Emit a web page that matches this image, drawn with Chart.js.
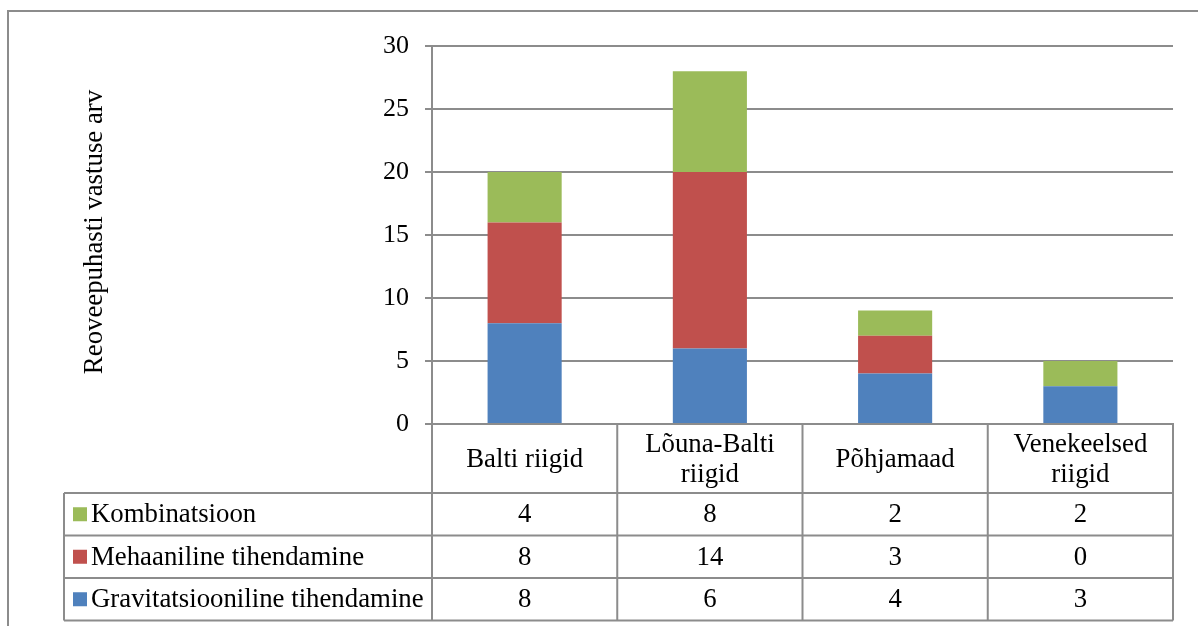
<!DOCTYPE html>
<html>
<head>
<meta charset="utf-8">
<script src="https://cdn.jsdelivr.net/npm/chart.js@4.4.1/dist/chart.umd.min.js"></script>
<style>
  html, body { margin: 0; padding: 0; background: #fff; }
  #wrap { width: 1198px; height: 626px; position: relative; }
</style>
</head>
<body>
<div id="wrap"><canvas id="c" width="1198" height="626"></canvas></div>
<script>
// Regions and responses per wastewater treatment method
const categories = [["Balti riigid"], ["Lõuna-Balti", "riigid"], ["Põhjamaad"], ["Venekeelsed", "riigid"]];
const gravitatsiooniline = [8, 6, 4, 3];
const mehaaniline = [8, 14, 3, 0];
const kombinatsioon = [4, 8, 2, 2];
const yTicks = [0, 5, 10, 15, 20, 25, 30];

const seriesNames = ["Gravitatsiooniline tihendamine", "Mehaaniline tihendamine", "Kombinatsioon"];
const seriesColors = ["#4F81BD", "#C0504D", "#9BBB59"];
const seriesData = [gravitatsiooniline, mehaaniline, kombinatsioon];

const FONT = "'Liberation Serif', 'Times New Roman', serif";
const FONT_SIZE = 26.8;
const TICK_SIZE = 26;
const GRID = "#8C8C8C";

// Draws the frame, axis title and the data table under the plot
const tablePlugin = {
  id: 'dataTable',
  afterDraw(chart) {
    const ctx = chart.ctx;
    const x = chart.scales.x;
    const area = chart.chartArea;
    const n = categories.length;
    const colW = (area.right - area.left) / n;
    const headerBottom = area.bottom + 69;
    const rowH = 42.5;
    const legendLeft = 64;
    const tableBottom = headerBottom + rowH * 3;

    ctx.save();
    // outer frame
    ctx.strokeStyle = GRID;
    ctx.lineWidth = 2;
    ctx.beginPath();
    ctx.moveTo(8, 626);
    ctx.lineTo(8, 11);
    ctx.lineTo(1198, 11);
    ctx.stroke();

    // axis title
    ctx.fillStyle = "#000";
    ctx.font = FONT_SIZE + "px " + FONT;
    ctx.textAlign = "center";
    ctx.textBaseline = "middle";
    ctx.save();
    ctx.translate(95, 232);
    ctx.rotate(-Math.PI / 2);
    ctx.fillText("Reoveepuhasti vastuse arv", 0, 0);
    ctx.restore();

    // table lines
    ctx.strokeStyle = GRID;
    ctx.lineWidth = 2;
    ctx.beginPath();
    for (let i = 0; i <= n; i++) {
      const lx = area.left + colW * i;
      ctx.moveTo(lx, area.bottom);
      ctx.lineTo(lx, tableBottom);
    }
    for (let r = 0; r <= 3; r++) {
      const ly = headerBottom + rowH * r;
      ctx.moveTo(legendLeft, ly);
      ctx.lineTo(area.right, ly);
    }
    ctx.moveTo(legendLeft, headerBottom);
    ctx.lineTo(legendLeft, tableBottom);
    ctx.stroke();

    // header: category names
    ctx.fillStyle = "#000";
    ctx.textAlign = "center";
    categories.forEach((lines, i) => {
      const cx = x.getPixelForValue(i);
      const cy = (area.bottom + headerBottom) / 2 + 1;
      const lh = 30;
      lines.forEach((t, k) => {
        ctx.fillText(t, cx, cy + (k - (lines.length - 1) / 2) * lh);
      });
    });

    // rows: top series first
    for (let r = 0; r < 3; r++) {
      const s = 2 - r;
      const cy = headerBottom + rowH * r + rowH / 2;
      ctx.fillStyle = seriesColors[s];
      ctx.fillRect(legendLeft + 9, cy - 7, 14, 14);
      ctx.fillStyle = "#000";
      ctx.textAlign = "left";
      ctx.fillText(seriesNames[s], legendLeft + 27, cy + 1);
      ctx.textAlign = "center";
      seriesData[s].forEach((v, i) => {
        ctx.fillText(String(v), x.getPixelForValue(i), cy + 1);
      });
    }
    ctx.restore();
  }
};

new Chart(document.getElementById('c'), {
  type: 'bar',
  data: {
    labels: categories.map(c => c.join(' ')),
    datasets: seriesData.map((d, i) => ({
      label: seriesNames[i],
      data: d,
      backgroundColor: seriesColors[i],
      borderWidth: 0,
      categoryPercentage: 1,
      barPercentage: 0.4
    }))
  },
  options: {
    responsive: false,
    animation: false,
    devicePixelRatio: 1,
    layout: { padding: { left: 0, right: 25, top: 46, bottom: 202 } },
    plugins: { legend: { display: false }, tooltip: { enabled: false } },
    scales: {
      x: {
        stacked: true,
        grid: { display: false, drawTicks: false },
        border: { display: true, color: GRID, width: 2 },
        ticks: { display: false }
      },
      y: {
        stacked: true,
        min: 0,
        max: 30,
        afterBuildTicks(scale) { scale.ticks = yTicks.map(v => ({ value: v })); },
        afterFit(scale) { scale.width = 432; },
        grid: { color: GRID, lineWidth: 2, tickLength: 7 },
        border: { display: true, color: GRID, width: 2 },
        ticks: { color: "#000", font: { family: FONT, size: TICK_SIZE }, padding: 16 }
      }
    }
  },
  plugins: [tablePlugin]
});
</script>
</body>
</html>
